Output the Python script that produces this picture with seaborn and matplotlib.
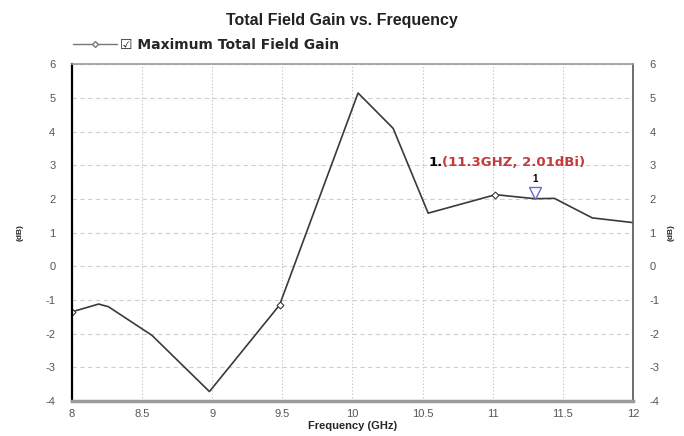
import matplotlib
matplotlib.use("Agg")
import matplotlib.pyplot as plt
import seaborn as sns
import pandas as pd

# Simulated maximum total field gain across the band
freq_ghz = [8.0, 8.19, 8.26, 8.57, 8.98, 9.48, 10.04, 10.29, 10.54, 11.02, 11.3, 11.44, 11.71, 12.0]
gain_dbi = [-1.35, -1.12, -1.2, -2.05, -3.72, -1.15, 5.15, 4.1, 1.58, 2.13, 2.01, 2.02, 1.44, 1.3]
marked_idx = [0, 5, 9]

# Readout marker
marker_freq = 11.3
marker_gain = 2.01

x_ticks = [8, 8.5, 9, 9.5, 10, 10.5, 11, 11.5, 12]
x_tick_labels = ["8", "8.5", "9", "9.5", "10", "10.5", "11", "11.5", "12"]
y_ticks = [-4, -3, -2, -1, 0, 1, 2, 3, 4, 5, 6]

sns.set_style("white")
plt.rcParams["font.family"] = ["Liberation Sans", "DejaVu Sans"]
plt.rcParams["axes.unicode_minus"] = False
wide = ["DejaVu Sans"]

df = pd.DataFrame({"Frequency (GHz)": freq_ghz, "Gain": gain_dbi})

fig = plt.figure(figsize=(6.84, 4.36), dpi=100)
ax = fig.add_axes([0.1053, 0.0803, 0.82, 0.772])

line_color = "#3a3a3a"
sns.lineplot(data=df, x="Frequency (GHz)", y="Gain", ax=ax, color=line_color,
             linewidth=1.2, marker="D", markersize=3.5, markevery=marked_idx,
             markerfacecolor="white", markeredgecolor=line_color,
             markeredgewidth=0.8, label="_nolegend_")

ax.set_xlim(8, 12)
ax.set_ylim(-4, 6)
ax.set_xticks(x_ticks)
ax.set_xticklabels(x_tick_labels)
ax.set_yticks(y_ticks)

# grid: dashed horizontals, dotted verticals
ax.yaxis.grid(True, linestyle=(0, (4, 3)), color="#cfcfcf", linewidth=0.8)
ax.xaxis.grid(True, linestyle=(0, (1, 2)), color="#bdbdbd", linewidth=0.8)
ax.set_axisbelow(True)

tick_color = "#555555"
ax.tick_params(axis="both", length=0, labelsize=8, labelcolor=tick_color)
ax.tick_params(axis="y", pad=12)
ax.tick_params(axis="x", pad=6)

ax.spines["left"].set_color("black")
ax.spines["left"].set_linewidth(1.6)
ax.spines["bottom"].set_color("#9a9a9a")
ax.spines["bottom"].set_linewidth(2.5)
ax.spines["top"].set_color("#9a9a9a")
ax.spines["top"].set_linewidth(1.2)
ax.spines["right"].set_color("#555555")
ax.spines["right"].set_linewidth(1.2)

ax.set_xlabel("Frequency (GHz)", fontsize=8, fontweight="bold", labelpad=1)
ax.set_ylabel("(dB)", fontsize=6, fontweight="bold", labelpad=16)

# mirrored right axis
ax2 = ax.twinx()
ax2.set_ylim(ax.get_ylim())
ax2.set_yticks(y_ticks)
ax2.tick_params(axis="y", length=0, labelsize=8, labelcolor=tick_color, pad=12)
for s in ax2.spines.values():
    s.set_visible(False)
ax2.set_ylabel("(dB)", fontsize=6, fontweight="bold", labelpad=6)

# readout marker and label
ax.plot([marker_freq], [marker_gain + 0.18], marker="v", markersize=8,
        markerfacecolor="white", markeredgecolor="#6a6acb", markeredgewidth=1.0,
        linestyle="none", zorder=5)
ax.text(marker_freq, marker_gain + 0.45, "1", ha="center", va="bottom",
        fontsize=7, fontweight="bold", color="black")
ax.text(10.54, 3.1, "1.", ha="left", va="center", fontsize=9.5,
        fontweight="bold", color="black", family=wide)
ax.text(10.64, 3.1, "(%.1fGHZ, %.2fdBi)" % (marker_freq, marker_gain),
        ha="left", va="center", fontsize=9.5, fontweight="bold", color="#c23b3b",
        family=wide)

fig.suptitle("Total Field Gain vs. Frequency", x=0.5, y=0.97, fontsize=11.5,
             fontweight="bold", color="#222222")

# legend entry above the plot
handle = plt.Line2D([], [], color="#777777", linewidth=1.0, marker="D",
                    markersize=3, markerfacecolor="white",
                    markeredgecolor="#777777")
fig.legend([handle], ["\u2611 Maximum Total Field Gain"], loc="center left",
           bbox_to_anchor=(0.088, 0.897), frameon=False, handlelength=3.2,
           handletextpad=0.2,
           prop={"size": 10, "weight": "bold", "family": wide})

fig.savefig("out.png", dpi=100, facecolor="white")
